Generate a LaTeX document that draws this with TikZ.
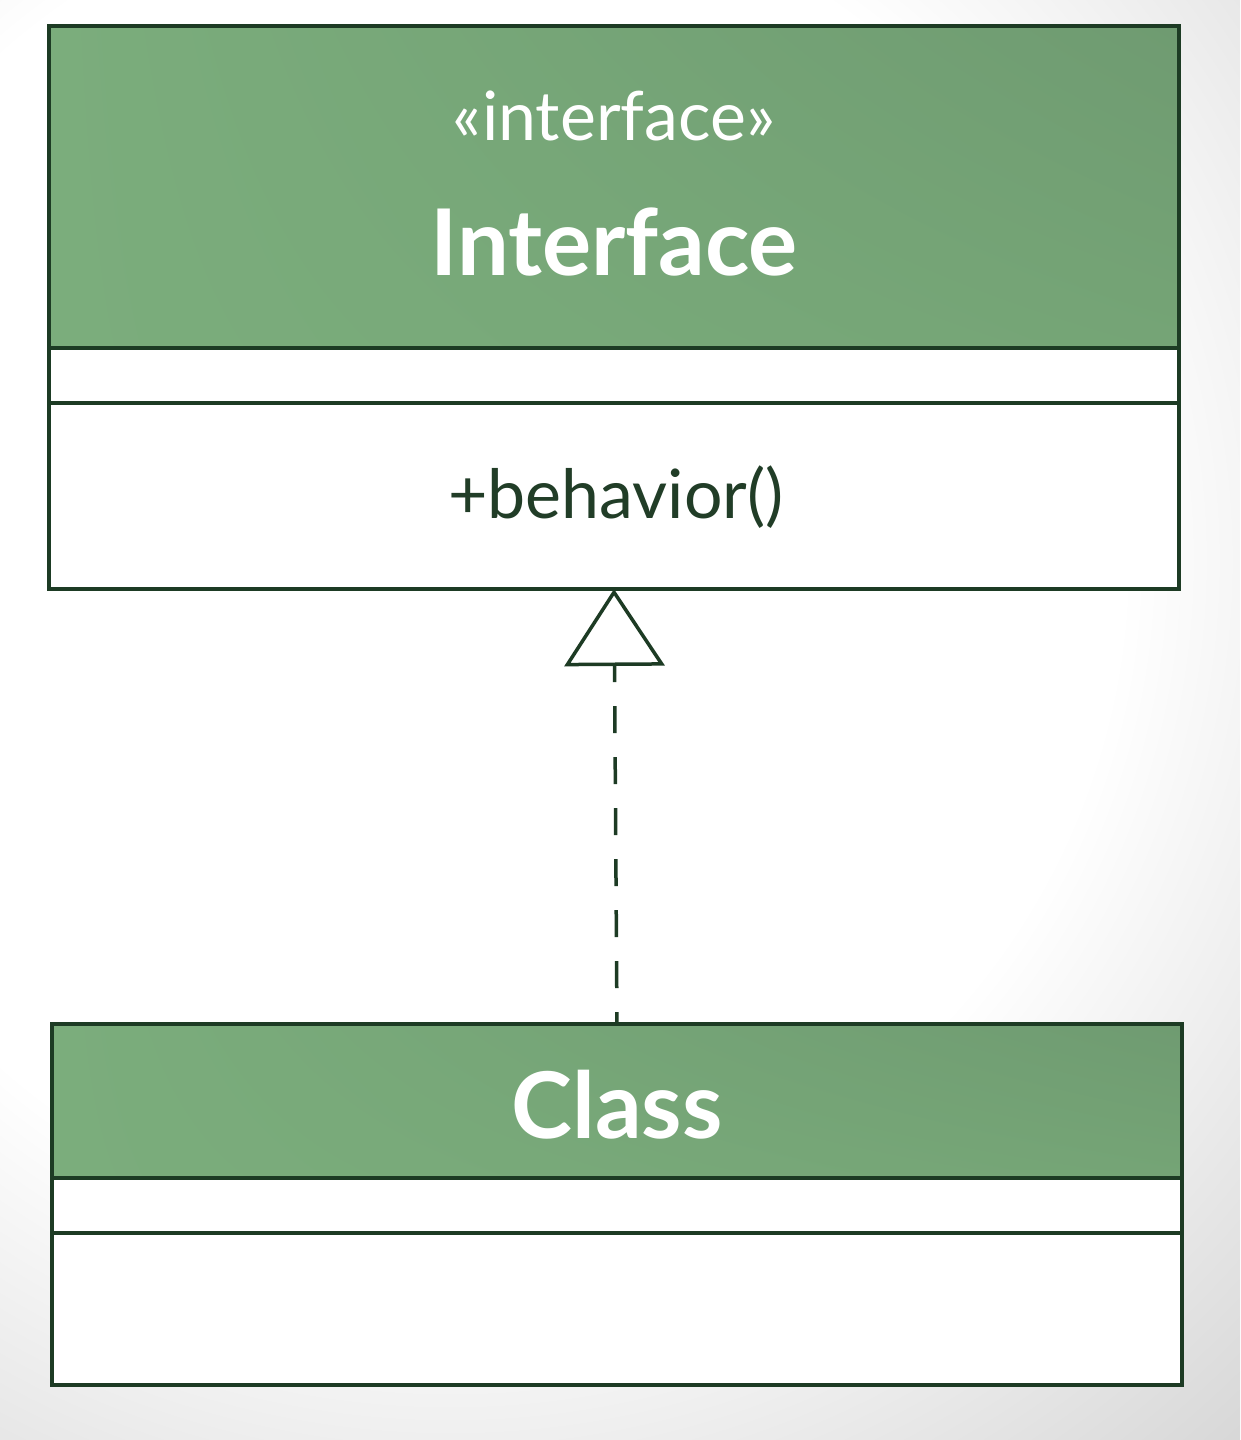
\documentclass[tikz,border=0pt]{standalone}
\usepackage{fontspec}
\setmainfont{Lato}
\usetikzlibrary{arrows.meta,shadings}
\definecolor{umlgreen}{HTML}{7BAD7C}
\definecolor{umlgreendark}{HTML}{6F9B71}
\definecolor{umlline}{HTML}{1D3B24}
\definecolor{umltext}{HTML}{213D27}
% page background: white in the middle, greying towards the edges
\pgfdeclareradialshading{pagefall}{\pgfpoint{0bp}{0bp}}{%
  color(0bp)=(white); color(14bp)=(white); color(25bp)=(black!16); color(50bp)=(black!16)}
\begin{document}
\begin{tikzpicture}[x=1pt,y=-1pt,
  box/.style={draw=umlline, line width=3.5pt, anchor=north west, inner sep=0pt, outer sep=0pt},
  header/.style={box, shade, upper left=umlgreen, lower left=umlgreen,
                 upper right=umlgreendark, lower right=umlgreen!95!black},
  compart/.style={box, fill=white},
  title/.style={text=white, font=\bfseries\fontsize{92}{92}\selectfont, anchor=base},
  stereo/.style={text=white, font=\fontsize{68}{68}\selectfont, anchor=base},
  member/.style={text=umltext, font=\fontsize{68}{68}\selectfont, anchor=base},
  realize/.style={draw=umlline, line width=3.5pt, dash pattern=on 27pt off 24pt, dash phase=15pt,
                  -{Triangle[open, length=77pt, width=100pt, fill=white]}}
]
  \begin{scope}
    \clip (0,0) rectangle (1240,1440);
    \shade[shading=pagefall] (450,560) circle (1200);
  \end{scope}
  \useasboundingbox (0,0) rectangle (1240,1440);

  % interface box
  \node[header,  minimum width=1130pt, minimum height=322pt] (ihead) at (49,26) {};
  \node[compart, minimum width=1130pt, minimum height=55pt]  (iattr) at (49,348) {};
  \node[compart, minimum width=1130pt, minimum height=186pt] (iops)  at (49,403) {};
  \node[stereo] (istereo) at (614,140) {«interface»};
  \node[title]  (iname)   at (614,275) {Interface};
  \node[member] (ibehav)  at (616,518) {+behavior()};

  % class box
  \node[header,  minimum width=1130pt, minimum height=154pt] (chead) at (52,1024) {};
  \node[compart, minimum width=1130pt, minimum height=55pt]  (cattr) at (52,1178) {};
  \node[compart, minimum width=1130pt, minimum height=152pt] (cops)  at (52,1233) {};
  \node[title] (cname) at (617,1138) {Class};

  % realization
  \draw[realize] (chead.north) -- (iops.south);
\end{tikzpicture}
\end{document}
